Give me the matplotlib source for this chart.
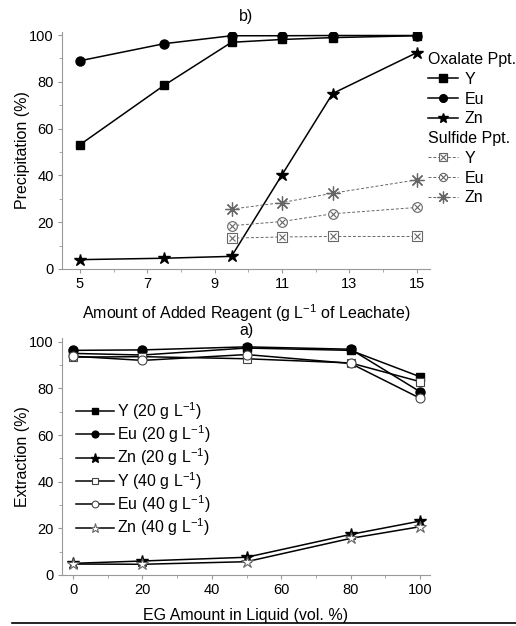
import matplotlib
matplotlib.use('Agg')
import matplotlib.pyplot as plt
from matplotlib.ticker import MultipleLocator
from matplotlib.legend_handler import HandlerTuple
from matplotlib.lines import Line2D

plt.rcParams['font.family'] = ['Liberation Sans', 'DejaVu Sans']
plt.rcParams['mathtext.default'] = 'regular'
plt.rcParams['font.size'] = 10

# --- data: panel b) precipitation ---
reagent_ox = [5, 7.5, 9.5, 11, 12.5, 15]
ox_Y = [53.1, 78.5, 96.9, 98.1, 98.9, 99.7]
ox_Eu = [89.0, 96.3, 99.7, 99.7, 99.8, 99.8]
ox_Zn = [4.0, 4.6, 5.4, 40.3, 75.0, 92.5]
reagent_sul = [9.5, 11, 12.5, 15]
sul_Y = [13.2, 13.7, 13.9, 13.9]
sul_Eu = [18.5, 20.3, 23.6, 26.3]
sul_Zn = [25.6, 28.4, 32.4, 38.1]

# --- data: panel a) extraction ---
eg = [0, 20, 50, 80, 100]
Y20 = [95.0, 94.3, 97.3, 96.3, 85.0]
Eu20 = [96.3, 96.5, 97.8, 96.8, 78.6]
Zn20 = [5.0, 6.0, 7.6, 17.4, 23.1]
Y40 = [93.4, 93.6, 92.7, 90.9, 82.9]
Eu40 = [93.8, 92.0, 94.5, 90.7, 75.8]
Zn40 = [4.7, 4.6, 5.7, 15.7, 20.7]

W, H = 516, 626
fig = plt.figure(figsize=(W / 100, H / 100), dpi=100)

def px_axes(l, t, r, b):
    return fig.add_axes([l / W, 1 - b / H, (r - l) / W, (b - t) / H])

spine_c = '#999999'

def style(ax):
    for s in ['top', 'right']:
        ax.spines[s].set_visible(False)
    for s in ['left', 'bottom']:
        ax.spines[s].set_color(spine_c)
        ax.spines[s].set_linewidth(0.8)
    ax.tick_params(which='major', direction='out', length=3, width=0.8, color=spine_c, labelsize=10.5, pad=3)
    ax.tick_params(which='minor', direction='out', length=2, width=0.6, color=spine_c)

grey = '#666666'
lw = 1.1

# ---------- panel b ----------
ax1 = px_axes(62, 32, 430, 269)
style(ax1)
ax1.plot(reagent_ox, ox_Y, '-s', color='k', lw=lw, ms=6)
ax1.plot(reagent_ox, ox_Eu, '-o', color='k', lw=lw, ms=6.5)
ax1.plot(reagent_ox, ox_Zn, '-*', color='k', lw=lw, ms=9)

ax1.plot(reagent_sul, sul_Y, ls=(0, (3, 2)), color=grey, lw=0.7)
ax1.plot(reagent_sul, sul_Y, ls='none', marker='s', mfc='white', mec=grey, ms=6.5, mew=0.8)
ax1.plot(reagent_sul, sul_Y, ls='none', marker='x', color=grey, ms=5, mew=0.8)
ax1.plot(reagent_sul, sul_Eu, ls=(0, (3, 2)), color=grey, lw=0.7)
ax1.plot(reagent_sul, sul_Eu, ls='none', marker='o', mfc='white', mec=grey, ms=7, mew=0.8)
ax1.plot(reagent_sul, sul_Eu, ls='none', marker='x', color=grey, ms=5, mew=0.8)
ax1.plot(reagent_sul, sul_Zn, ls=(0, (3, 2)), color=grey, lw=0.7, marker=(8, 2, 0), ms=10, mew=0.9, mec=grey)

ax1.set_xlim(4.47, 15.39)
ax1.set_ylim(0, 101.3)
ax1.set_xticks([5, 7, 9, 11, 13, 15])
ax1.xaxis.set_minor_locator(MultipleLocator(1))
ax1.set_yticks([0, 20, 40, 60, 80, 100])
ax1.yaxis.set_minor_locator(MultipleLocator(10))
ax1.set_xlabel('Amount of Added Reagent (g L$^{-1}$ of Leachate)', fontsize=11.5, labelpad=8)
ax1.set_ylabel('Precipitation (%)', fontsize=11.5, labelpad=-1)
ax1.set_title('b)', fontsize=11.5, pad=8)

h_ox = [Line2D([], [], color='k', lw=lw, marker='s', ms=6),
        Line2D([], [], color='k', lw=lw, marker='o', ms=6.5),
        Line2D([], [], color='k', lw=lw, marker='*', ms=9)]
leg1 = fig.legend(h_ox, ['Y', 'Eu', 'Zn'], title='Oxalate Ppt.', loc='upper left',
                  bbox_to_anchor=(428 / W, 1 - 52 / H), frameon=False, borderpad=0,
                  borderaxespad=0, alignment='left', handlelength=1.9, handletextpad=0.4,
                  labelspacing=0.3, fontsize=11.5, title_fontsize=11.5, markerscale=0.85)

dash_line = Line2D([], [], color=grey, lw=0.7, ls=(0, (3, 2)))
h_sul = [(dash_line, Line2D([], [], ls='none', marker='s', mfc='white', mec=grey, ms=6.5, mew=0.8),
          Line2D([], [], ls='none', marker='x', color=grey, ms=5, mew=0.8)),
         (dash_line, Line2D([], [], ls='none', marker='o', mfc='white', mec=grey, ms=7, mew=0.8),
          Line2D([], [], ls='none', marker='x', color=grey, ms=5, mew=0.8)),
         (dash_line, Line2D([], [], ls='none', marker=(8, 2, 0), ms=10, mew=0.9, mec=grey, color=grey))]
leg2 = fig.legend(h_sul, ['Y', 'Eu', 'Zn'], title='Sulfide Ppt.', loc='upper left',
                  bbox_to_anchor=(428 / W, 1 - 131 / H), frameon=False, borderpad=0,
                  borderaxespad=0, alignment='left', handlelength=1.9, handletextpad=0.4,
                  labelspacing=0.3, fontsize=11.5, title_fontsize=11.5, markerscale=0.85,
                  handler_map={tuple: HandlerTuple(ndivide=1)})

# ---------- panel a ----------
ax2 = px_axes(62, 338, 430, 575)
style(ax2)
ms2 = 6
ax2.plot(eg, Y20, '-s', color='k', lw=lw, ms=ms2, label='Y (20 g L$^{-1}$)')
ax2.plot(eg, Eu20, '-o', color='k', lw=lw, ms=ms2 + 0.5, label='Eu (20 g L$^{-1}$)')
ax2.plot(eg, Zn20, '-*', color='k', lw=lw, ms=ms2 + 3, label='Zn (20 g L$^{-1}$)')
ax2.plot(eg, Y40, '-s', color='k', lw=lw, ms=ms2, mfc='white', mec='#444444', mew=0.8, label='Y (40 g L$^{-1}$)')
ax2.plot(eg, Eu40, '-o', color='k', lw=lw, ms=ms2 + 0.5, mfc='white', mec='#444444', mew=0.8, label='Eu (40 g L$^{-1}$)')
ax2.plot(eg, Zn40, '-*', color='k', lw=lw, ms=ms2 + 3, mfc='white', mec=grey, mew=0.8, label='Zn (40 g L$^{-1}$)')

ax2.set_xlim(-3.2, 102.9)
ax2.set_ylim(0, 101.6)
ax2.set_xticks([0, 20, 40, 60, 80, 100])
ax2.xaxis.set_minor_locator(MultipleLocator(10))
ax2.set_yticks([0, 20, 40, 60, 80, 100])
ax2.yaxis.set_minor_locator(MultipleLocator(10))
ax2.set_xlabel('EG Amount in Liquid (vol. %)', fontsize=11.5, labelpad=8)
ax2.set_ylabel('Extraction (%)', fontsize=11.5, labelpad=-1)
ax2.set_title('a)', fontsize=11.5, pad=-2)
ax2.legend(loc='upper left', bbox_to_anchor=((76 - 62) / 368, (575 - 400) / 237), frameon=False,
           borderpad=0, borderaxespad=0, handlelength=2.4, handletextpad=0.15,
           labelspacing=0.1, fontsize=11.5, markerscale=0.75)

# rule under the figure
fig.add_artist(Line2D([12 / W, 1.0], [1 - 623 / H, 1 - 623 / H], color='k', lw=1.2))

fig.savefig('out.png', dpi=100)
